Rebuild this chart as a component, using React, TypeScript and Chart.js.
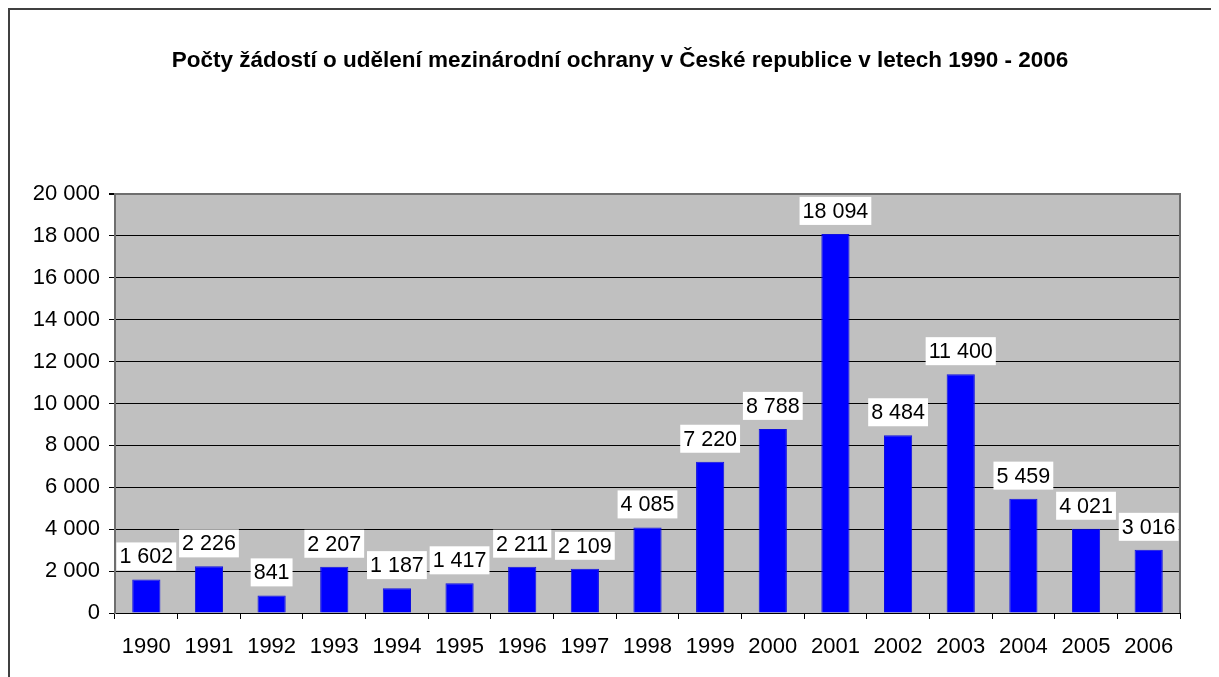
import React, { useEffect, useRef } from 'react';
import { Chart, registerables } from 'chart.js';

Chart.register(...registerables);

const years = ['1990', '1991', '1992', '1993', '1994', '1995', '1996', '1997', '1998', '1999', '2000', '2001', '2002', '2003', '2004', '2005', '2006'];
const requests = [1602, 2226, 841, 2207, 1187, 1417, 2211, 2109, 4085, 7220, 8788, 18094, 8484, 11400, 5459, 4021, 3016];
const yMin = 0;
const yMax = 20000;
const yStep = 2000;
const titleText = 'Počty žádostí o udělení mezinárodní ochrany v České republice v letech 1990 - 2006';

const FONT = '"Liberation Sans", Arial, sans-serif';

const fmt = (v: number) => String(Math.round(v)).replace(/\B(?=(\d{3})+(?!\d))/g, ' ');

const plotBg = {
  id: 'plotBg',
  beforeDraw(chart: any) {
    const { ctx, chartArea: a } = chart;
    ctx.save();
    ctx.fillStyle = '#C0C0C0';
    ctx.fillRect(a.left, a.top, a.right - a.left, a.bottom - a.top);
    ctx.restore();
  },
};

const chartTitle = {
  id: 'chartTitle',
  afterDraw(chart: any, _args: any, opts: any) {
    const { ctx } = chart;
    ctx.save();
    ctx.font = `bold 22.5px ${FONT}`;
    ctx.fillStyle = '#000';
    ctx.textAlign = 'center';
    ctx.textBaseline = 'middle';
    ctx.fillText(opts.text, opts.x, opts.y);
    ctx.restore();
  },
};

const plotBorder = {
  id: 'plotBorder',
  afterDatasetsDraw(chart: any) {
    const { ctx, chartArea: a } = chart;
    ctx.save();
    ctx.strokeStyle = '#6e6e6e';
    ctx.lineWidth = 2;
    ctx.beginPath();
    ctx.moveTo(a.left, a.top);
    ctx.lineTo(a.right, a.top);
    ctx.lineTo(a.right, a.bottom);
    ctx.stroke();
    ctx.restore();
  },
};

const valueLabels = {
  id: 'valueLabels',
  afterDatasetsDraw(chart: any) {
    const { ctx } = chart;
    const meta = chart.getDatasetMeta(0);
    const data = chart.data.datasets[0].data as number[];
    ctx.save();
    ctx.font = `21.5px ${FONT}`;
    ctx.textAlign = 'center';
    ctx.textBaseline = 'middle';
    meta.data.forEach((el: any, i: number) => {
      const txt = fmt(data[i]);
      const w = ctx.measureText(txt).width + 6;
      const h = 28;
      const cx = el.x;
      const bottom = el.y - 9;
      ctx.fillStyle = '#FFFFFF';
      ctx.fillRect(cx - w / 2, bottom - h, w, h);
      ctx.fillStyle = '#000000';
      ctx.fillText(txt, cx, bottom - h / 2 + 1);
    });
    ctx.restore();
  },
};

export default function App() {
  const ref = useRef<HTMLCanvasElement | null>(null);

  useEffect(() => {
    document.body.style.overflow = 'hidden';
    const canvas = ref.current;
    if (!canvas) return;
    const chart = new Chart(canvas, {
      type: 'bar',
      data: {
        labels: years,
        datasets: [
          {
            data: requests,
            backgroundColor: '#0000FF',
            borderColor: '#1010E0',
            borderWidth: 1,
            barPercentage: 0.45,
            categoryPercentage: 1,
          },
        ],
      },
      plugins: [plotBg, plotBorder, valueLabels, chartTitle],
      options: {
        responsive: false,
        animation: false,
        devicePixelRatio: 1,
        layout: { padding: { left: 0, right: 39, top: 186, bottom: 0 } },
        plugins: {
          legend: { display: false },
          tooltip: { enabled: false },
          title: { display: false },
          chartTitle: { text: titleText, x: 612, y: 52.5 },
        },
        scales: {
          x: {
            grid: {
              offset: true,
              drawOnChartArea: false,
              drawTicks: true,
              tickLength: 6,
              color: '#000',
              tickColor: '#000',
            },
            border: { display: true, color: '#000', width: 1 },
            ticks: {
              color: '#000',
              font: { family: FONT, size: 22 },
              padding: 15,
              maxRotation: 0,
              autoSkip: false,
            },
            afterFit(scale: any) {
              scale.height = 64;
            },
          },
          y: {
            min: yMin,
            max: yMax,
            grid: {
              color: (c: any) => (c.tick && c.tick.value === yMax ? '#6e6e6e' : '#000'),
              lineWidth: (c: any) => (c.tick && c.tick.value === yMax ? 2 : 1),
              tickColor: '#000',
              tickLength: 6,
            },
            border: { display: true, color: '#6e6e6e', width: 2 },
            ticks: {
              stepSize: yStep,
              color: '#000',
              font: { family: FONT, size: 22 },
              padding: 9,
              callback: (v: any) => fmt(Number(v)),
            },
            afterFit(scale: any) {
              scale.width = 107;
            },
          },
        },
      },
    } as any);
    return () => chart.destroy();
  }, []);

  return (
    <div style={{ position: 'relative', width: 1211, height: 669, overflow: 'hidden' }}>
      <div
        style={{
          position: 'absolute',
          left: 0,
          top: 0,
          width: 1400,
          height: 900,
          border: '2px solid #404040',
          boxSizing: 'border-box',
        }}
      />
      <canvas
        ref={ref}
        width={1211}
        height={669}
        style={{ position: 'absolute', left: 0, top: 0, width: 1211, height: 669 }}
      />
    </div>
  );
}
